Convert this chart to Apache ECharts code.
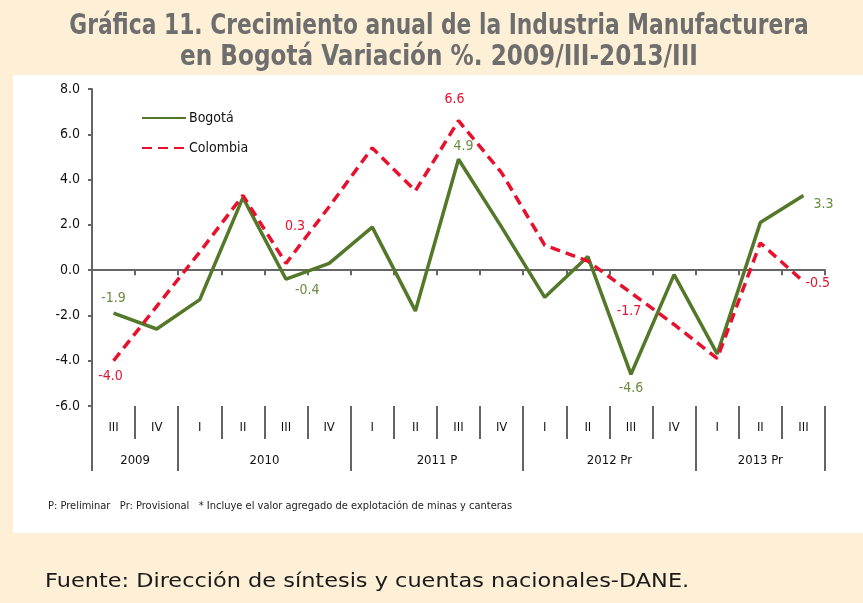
<!DOCTYPE html>
<html>
<head>
<meta charset="utf-8">
<script src="https://cdn.jsdelivr.net/npm/echarts@6/dist/echarts.min.js"></script>
<style>
  html, body { margin: 0; padding: 0; background: #fdf0d6; }
  #main { width: 863px; height: 603px; }
</style>
</head>
<body>
<div id="main"></div>
<script>
// trimestres (eje de categorías)
const quarters = ['III', 'IV', 'I', 'II', 'III', 'IV', 'I', 'II', 'III', 'IV', 'I', 'II', 'III', 'IV', 'I', 'II', 'III'];
// años y su posición (en trimestres) sobre el eje
const years = ['2009', '2010', '2011 P', '2012 Pr', '2013 Pr'];
const yearCenters = [1, 4, 8, 12, 15.5];
const yearBounds = [0, 2, 6, 10, 14, 17];

const bogota = [-1.9, -2.6, -1.3, 3.2, -0.4, 0.3, 1.9, -1.8, 4.9, 1.9, -1.2, 0.6, -4.6, -0.2, -3.7, 2.1, 3.3];
const colombia = [-4.0, -1.6, 0.8, 3.3, 0.3, 2.8, 5.4, 3.5, 6.6, 4.3, 1.1, 0.4, -1.0, -2.4, -3.9, 1.2, -0.5];

// textos de las etiquetas tal como aparecen en la gráfica
const bogotaLabels = ['-1.9', '', '', '', '-0.4', '', '', '', '4.9', '', '', '', '-4.6', '', '', '', '3.3'];
const colombiaLabels = ['-4.0', '', '', '', '0.3', '', '', '', '6.6', '', '', '', '-1.7', '', '', '', '-0.5'];

const yMin = -6, yMax = 8, yStep = 2;

const GREEN = '#537829';
const GREEN_TXT = '#6a8c40';
const RED = '#e8112d';
const AXIS = '#656565';
const NARROW = "'Liberation Sans Narrow', 'Arial Narrow', 'DejaVu Sans Condensed', 'Liberation Sans', sans-serif";

// ubicación de cada etiqueta
const bogotaPos = {
  0: { position: 'top', distance: 8 },
  4: { position: 'right', distance: 9, offset: [0, 11] },
  8: { position: 'top', distance: 6, offset: [5, 0] },
  12: { position: 'bottom', distance: 7 },
  16: { position: 'right', distance: 10, offset: [0, 9] }
};
const colombiaPos = {
  0: { position: 'bottom', distance: 9, offset: [-3, 0] },
  4: { position: 'top', distance: 30, offset: [9, 0] },
  8: { position: 'top', distance: 14, offset: [-4, 0] },
  12: { position: 'bottom', distance: 12, offset: [-2, 0] },
  16: { position: 'right', distance: 2, offset: [0, 2] }
};

function buildData(values, labels, pos, color) {
  return values.map((v, i) => {
    if (!labels[i]) return v;
    return {
      value: v,
      label: Object.assign({
        show: true,
        formatter: labels[i],
        color: color,
        fontSize: 14,
        fontFamily: NARROW
      }, pos[i])
    };
  });
}

const chart = echarts.init(document.getElementById('main'));

const titleStyle = { font: 'bold 28px ' + NARROW, fill: '#6e6e6e', align: 'center', verticalAlign: 'middle' };

const option = {
  backgroundColor: '#fdf0d6',
  animation: false,
  textStyle: { fontFamily: NARROW },
  graphic: [
    { type: 'rect', z: -10, shape: { x: 13, y: 75, width: 850, height: 458 }, style: { fill: '#ffffff' } },
    {
      type: 'text', x: 439, y: 27, scaleX: 0.865,
      style: Object.assign({ text: 'Gráfica 11. Crecimiento anual de la Industria Manufacturera' }, titleStyle)
    },
    {
      type: 'text', x: 439, y: 58, scaleX: 0.92,
      style: Object.assign({ text: 'en Bogotá Variación %. 2009/III-2013/III' }, titleStyle)
    },
    {
      type: 'text', x: 48, y: 506,
      style: {
        text: 'P: Preliminar   Pr: Provisional   * Incluye el valor agregado de explotación de minas y canteras',
        font: '11px ' + NARROW, fill: '#222222', verticalAlign: 'middle'
      }
    },
    {
      type: 'text', x: 45, y: 582, scaleX: 1.18,
      style: {
        text: 'Fuente: Dirección de síntesis y cuentas nacionales-DANE.',
        font: '19px "DejaVu Sans", sans-serif', fill: '#1a1a1a', verticalAlign: 'middle'
      }
    }
  ],
  legend: {
    orient: 'vertical',
    left: 136,
    top: 106,
    itemWidth: 44,
    itemHeight: 14,
    itemGap: 16,
    itemStyle: { opacity: 0 },
    textStyle: { fontSize: 14, color: '#111', fontFamily: NARROW, padding: [0, 0, 0, -2] },
    data: ['Bogotá', 'Colombia']
  },
  grid: { left: 92, right: 38, top: 89, bottom: 197, containLabel: false },
  xAxis: [
    {
      type: 'category',
      data: quarters,
      axisLine: { onZero: true, lineStyle: { color: AXIS, width: 2 } },
      axisTick: { show: true, length: 5, lineStyle: { color: AXIS, width: 2 } },
      axisLabel: { show: false }
    },
    {
      type: 'category',
      data: quarters,
      position: 'bottom',
      axisLine: { show: false, onZero: false },
      axisTick: { show: true, length: 33, lineStyle: { color: AXIS, width: 2 } },
      axisLabel: { show: true, margin: 15, fontSize: 13, color: '#111', fontFamily: NARROW }
    },
    {
      type: 'value',
      min: 0,
      max: yearBounds[yearBounds.length - 1],
      position: 'bottom',
      splitLine: { show: false },
      axisLine: { show: false, onZero: false },
      axisTick: { show: true, length: 65, customValues: yearBounds, lineStyle: { color: AXIS, width: 2 } },
      axisLabel: {
        show: true, margin: 48, fontSize: 13, color: '#111', fontFamily: NARROW,
        customValues: yearCenters,
        formatter: v => years[yearCenters.indexOf(v)] || ''
      }
    }
  ],
  yAxis: {
    type: 'value',
    min: yMin,
    max: yMax,
    interval: yStep,
    splitLine: { show: false },
    axisLine: { show: true, lineStyle: { color: AXIS, width: 2 } },
    axisTick: { show: true, length: 4, lineStyle: { color: AXIS, width: 2 } },
    axisLabel: { margin: 12, fontSize: 14, color: '#111', fontFamily: NARROW, formatter: v => v.toFixed(1) }
  },
  series: [
    {
      name: 'Bogotá',
      type: 'line',
      symbol: 'circle',
      symbolSize: 0,
      showSymbol: true,
      z: 3,
      lineStyle: { color: GREEN, width: 3.5 },
      itemStyle: { color: GREEN },
      data: buildData(bogota, bogotaLabels, bogotaPos, GREEN_TXT)
    },
    {
      name: 'Colombia',
      type: 'line',
      symbol: 'circle',
      symbolSize: 0,
      showSymbol: true,
      z: 4,
      lineStyle: { color: RED, width: 3.5, type: [10, 6] },
      itemStyle: { color: RED },
      data: buildData(colombia, colombiaLabels, colombiaPos, RED)
    }
  ]
};

chart.setOption(option);
</script>
</body>
</html>
